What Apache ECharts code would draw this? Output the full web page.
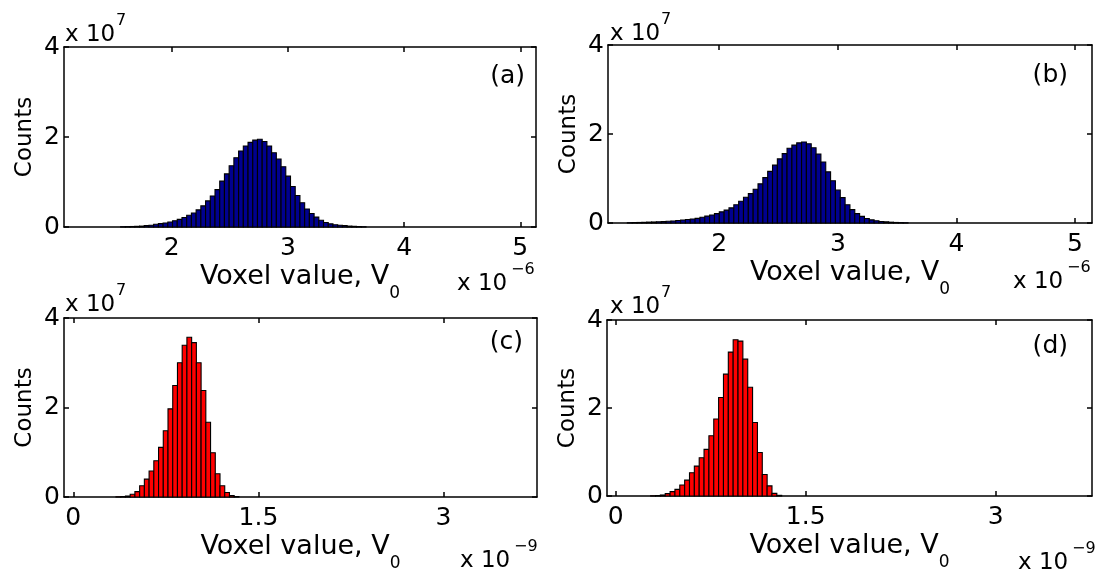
<!DOCTYPE html>
<html>
<head>
<meta charset="utf-8">
<title>Voxel value histograms</title>
<script src="https://cdn.jsdelivr.net/npm/echarts@6/dist/echarts.min.js"></script>
<style>
  html, body { margin: 0; padding: 0; background: #fff; }
  #chart { width: 1108px; height: 576px; }
</style>
</head>
<body>
<div id="chart"></div>
<script>
// counts in units of 1e7; voxel values in 1e-6 (top row) and 1e-9 (bottom row)
const yTicks = [0, 2, 4]
const xTicksTop = [2, 3, 4, 5]
const xTicksBottom = [0, 1.5, 3]

// (a)
const aRange = [1.074, 5.135]
const aBinWidth = 0.0406
const aFirstBin = 12
const aCounts = [0.005, 0.008, 0.011, 0.015, 0.02, 0.03, 0.04, 0.06, 0.075, 0.09,
  0.11, 0.14, 0.17, 0.21, 0.26, 0.31, 0.38, 0.47, 0.58, 0.69,
  0.83, 1.02, 1.18, 1.36, 1.54, 1.69, 1.80, 1.88, 1.93, 1.95,
  1.90, 1.80, 1.65, 1.51, 1.34, 1.13, 0.90, 0.70, 0.54, 0.40,
  0.30, 0.22, 0.15, 0.10, 0.07, 0.05, 0.04, 0.03, 0.02, 0.015,
  0.01, 0.005]

// (b)
const bRange = [1.062, 5.143]
const bBinWidth = 0.0408
const bFirstBin = 4
const bCounts = [0.006, 0.01, 0.012, 0.015, 0.02, 0.023, 0.027, 0.032, 0.038, 0.046,
  0.056, 0.068, 0.08, 0.09, 0.105, 0.13, 0.155, 0.18, 0.21, 0.25,
  0.29, 0.34, 0.41, 0.49, 0.58, 0.66, 0.76, 0.88, 1.02, 1.16,
  1.30, 1.44, 1.56, 1.68, 1.75, 1.80, 1.82, 1.78, 1.69, 1.55,
  1.37, 1.15, 0.95, 0.74, 0.57, 0.41, 0.30, 0.21, 0.15, 0.10,
  0.07, 0.05, 0.035, 0.025, 0.018, 0.012, 0.008, 0.005]

// (c)
const cRange = [-0.075, 3.757]
const cBinWidth = 0.0383
const cFirstBin = 11
const cCounts = [0.005, 0.01, 0.022, 0.06, 0.12, 0.25, 0.40, 0.58, 0.81, 1.11,
  1.48, 1.97, 2.49, 3.00, 3.39, 3.57, 3.45, 3.00, 2.38, 1.67,
  0.99, 0.52, 0.25, 0.10, 0.03, 0.01]

// (d)
const dRange = [-0.068, 3.76]
const dBinWidth = 0.0383
const dFirstBin = 9
const dCounts = [0.005, 0.01, 0.023, 0.053, 0.10, 0.15, 0.25, 0.36, 0.53, 0.68,
  0.87, 1.06, 1.37, 1.75, 2.24, 2.77, 3.27, 3.55, 3.52, 3.11,
  2.47, 1.67, 0.99, 0.49, 0.23, 0.06, 0.015]

const FONT = '"DejaVu Sans", Verdana, sans-serif'
const BLUE = '#00008f'
const RED = '#ff0000'

const grids = [
  { left: 64, top: 47, width: 472, height: 180 },
  { left: 608, top: 45, width: 484, height: 178 },
  { left: 64, top: 318, width: 473, height: 179 },
  { left: 607, top: 320, width: 485, height: 176 }
]

const frame = { color: '#000', width: 1.5 }

function xAxes(gi, range, ticks) {
  return [
    {
      type: 'value', gridIndex: gi, position: 'bottom', min: range[0], max: range[1],
      axisLine: { onZero: false, lineStyle: frame },
      axisTick: { inside: true, length: 5, customValues: ticks, lineStyle: frame },
      axisLabel: { customValues: ticks, color: '#000', fontSize: 25, fontFamily: FONT, margin: 9 },
      splitLine: { show: false },
      name: 'Voxel value, V{sub|0}', nameLocation: 'middle', nameGap: 24,
      nameTextStyle: {
        color: '#000', fontSize: 27, fontFamily: FONT,
        rich: { sub: { color: '#000', fontSize: 17, fontFamily: FONT, padding: [34, 0, 0, 0] } }
      }
    },
    {
      type: 'value', gridIndex: gi, position: 'top', min: range[0], max: range[1],
      axisLine: { onZero: false, lineStyle: frame },
      axisTick: { inside: true, length: 5, customValues: ticks, lineStyle: frame },
      axisLabel: { show: false },
      splitLine: { show: false }
    }
  ]
}

function yAxes(gi) {
  return [
    {
      type: 'value', gridIndex: gi, position: 'left', min: 0, max: 4, interval: 2,
      axisLine: { show: true, onZero: false, lineStyle: frame },
      axisTick: { show: true, inside: true, length: 5, lineStyle: frame },
      axisLabel: { color: '#000', fontSize: 25, fontFamily: FONT, margin: 4 },
      splitLine: { show: false },
      name: 'Counts', nameLocation: 'middle', nameRotate: 90, nameGap: 27,
      nameTextStyle: { color: '#000', fontSize: 23, fontFamily: FONT }
    },
    {
      type: 'value', gridIndex: gi, position: 'right', min: 0, max: 4, interval: 2,
      axisLine: { show: true, onZero: false, lineStyle: frame },
      axisTick: { show: true, inside: true, length: 5, lineStyle: frame },
      axisLabel: { show: false },
      splitLine: { show: false }
    }
  ]
}

function histSeries(gi, range, binWidth, firstBin, counts, color) {
  return {
    type: 'custom',
    xAxisIndex: gi * 2,
    yAxisIndex: gi * 2,
    encode: { x: 0, y: 1 },
    data: counts.map((c, k) => [range[0] + (firstBin + k) * binWidth, c]),
    renderItem: (params, api) => {
      const x0 = api.value(0)
      const top = api.coord([x0, api.value(1)])
      const base = api.coord([x0 + binWidth, 0])
      return {
        type: 'rect',
        shape: { x: top[0], y: top[1], width: base[0] - top[0], height: base[1] - top[1] },
        style: { fill: color, stroke: '#000', lineWidth: 1.1 }
      }
    }
  }
}

function txt(x, y, text, size, align) {
  return {
    type: 'text', x: x, y: y,
    style: { text: text, fill: '#000', fontSize: size, fontFamily: FONT, align: align || 'left', verticalAlign: 'middle' }
  }
}

// "x 10^n" exponent labels
function expLabel(x, y, power, gap) {
  return [txt(x, y, 'x 10', 23), txt(x + gap, y - 14, power, 16)]
}

const graphics = [].concat(
  expLabel(65, 35, '7', 51), expLabel(610, 34, '7', 51),
  expLabel(65, 305, '7', 51), expLabel(610, 307, '7', 51),
  expLabel(457, 284, '\u22126', 54), expLabel(1013, 282, '\u22126', 54),
  expLabel(460, 561, '\u22129', 54), expLabel(1018, 563, '\u22129', 54),
  [txt(525, 76, '(a)', 25, 'right'), txt(1068, 75, '(b)', 25, 'right'),
   txt(523, 342, '(c)', 25, 'right'), txt(1068, 346, '(d)', 25, 'right')]
)

const chart = echarts.init(document.getElementById('chart'))
chart.setOption({
  animation: false,
  backgroundColor: '#fff',
  grid: grids,
  xAxis: [].concat(xAxes(0, aRange, xTicksTop), xAxes(1, bRange, xTicksTop),
    xAxes(2, cRange, xTicksBottom), xAxes(3, dRange, xTicksBottom)),
  yAxis: [].concat(yAxes(0), yAxes(1), yAxes(2), yAxes(3)),
  series: [
    histSeries(0, aRange, aBinWidth, aFirstBin, aCounts, BLUE),
    histSeries(1, bRange, bBinWidth, bFirstBin, bCounts, BLUE),
    histSeries(2, cRange, cBinWidth, cFirstBin, cCounts, RED),
    histSeries(3, dRange, dBinWidth, dFirstBin, dCounts, RED)
  ],
  graphic: graphics
})
</script>
</body>
</html>
